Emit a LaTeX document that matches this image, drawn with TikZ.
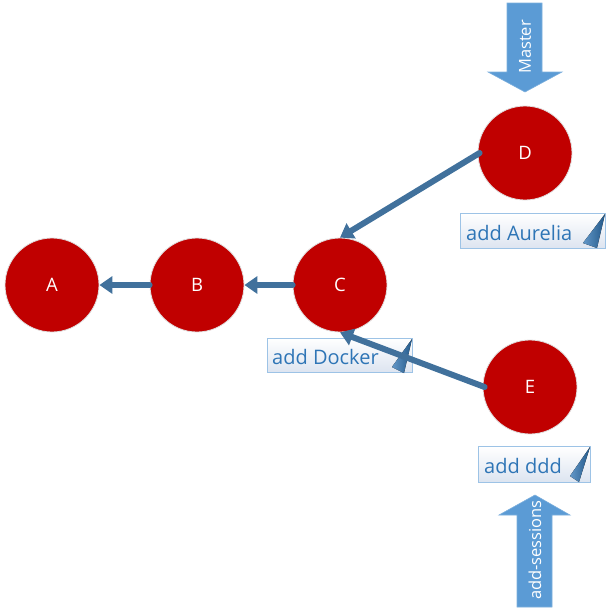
\documentclass[tikz,border=0pt]{standalone}
\usepackage{fontspec}
\setmainfont{Open Sans}
\usetikzlibrary{arrows.meta,shadings}
\definecolor{nodered}{HTML}{C00000}
\definecolor{edgeblue}{HTML}{41719C}
\definecolor{blockblue}{HTML}{5B9BD5}
\definecolor{labeltext}{HTML}{2E75B6}
\definecolor{labelborder}{HTML}{9DC3E6}
\definecolor{labelfill}{HTML}{DCE4F0}
\begin{document}
\begin{tikzpicture}[x=1pt,y=-1pt,
  commit/.style={circle, fill=nodered, draw=black!12, line width=0.8pt, minimum size=94pt, inner sep=0pt, text=white, font=\fontsize{18.5}{20}\selectfont},
  edge/.style={draw=edgeblue, line width=6pt, line cap=round, -{Triangle[length=13pt,width=17pt]}},
  tagbox/.style={rectangle, draw=labelborder, line width=1pt, top color=white, bottom color=labelfill, inner sep=0pt, anchor=north west},
  tagtext/.style={text=labeltext, font=\fontsize{20}{22}\selectfont, anchor=west, inner sep=0pt},
  fold/.style={left color=labeltext!75!white, right color=labeltext!75!black},
  block/.style={fill=blockblue, draw=blockblue!80!white, line width=0.6pt},
  blocktext/.style={text=white, font=\fontsize{16.5}{18}\selectfont, rotate=90, inner sep=0pt}]
\useasboundingbox (0,0) rectangle (607,616);

% commits
\node[commit] (A) at (52,285) {A};
\node[commit] (B) at (197,285) {B};
\node[commit] (C) at (340,285) {C};
\node[commit] (D) at (525,153) {D};
\node[commit] (E) at (530,387) {E};

% labels
\node[tagbox, minimum width=145pt, minimum height=35pt] (lauB) at (460,213) {};
\fill[fold] (605,214) -- (583,243) -- (597,248) -- cycle;
\node[tagtext] (lau) at (466,233) {add Aurelia};

\node[tagbox, minimum width=145pt, minimum height=34pt] (ldoB) at (267,338) {};
\fill[fold] (412,339) -- (392,367) -- (404,373) -- cycle;
\node[tagtext] (ldo) at (272,357) {add Docker};

\node[tagbox, minimum width=112pt, minimum height=36pt] (ldd) at (478,446) {};
\fill[fold] (590,447) -- (570,476) -- (579,482) -- cycle;
\node[tagtext] (lddt) at (484,466) {add ddd};

% edges
\draw[edge] (B.west) -- (A.east);
\draw[edge] (C.west) -- (B.east);
\draw[edge] ([xshift=2pt]D.west) -- (C.north);
\draw[edge] ([xshift=2pt]E.west) -- (C.south);

% branch pointers
\path[block] (507,3) -- (542,3) -- (542,72) -- (562,72) -- (525,92) -- (488,72) -- (507,72) -- cycle;
\node[blocktext] (master) at (525,47) {Master};

\path[block] (517,607) -- (552,607) -- (552,515) -- (570,515) -- (535,495) -- (499,515) -- (517,515) -- cycle;
\node[blocktext] (sessions) at (535,550) {add-sessions};
\end{tikzpicture}
\end{document}
